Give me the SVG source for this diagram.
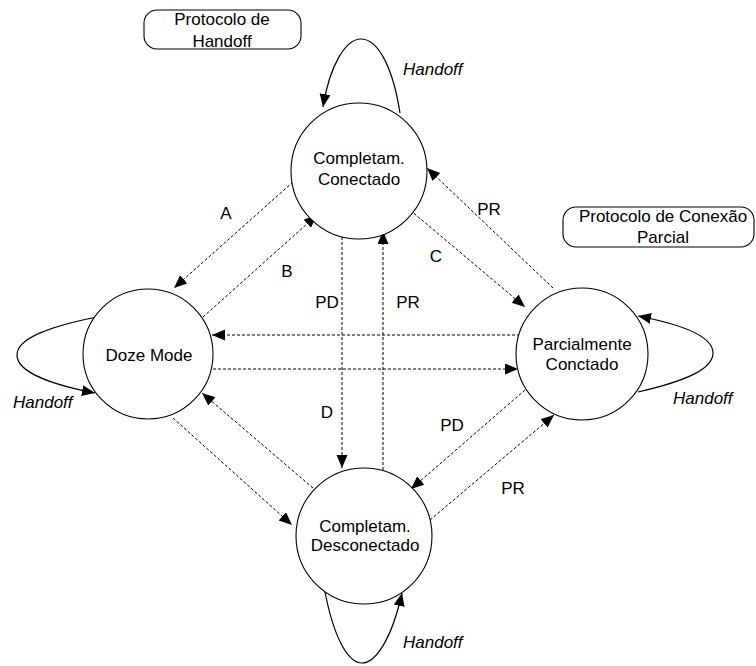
<svg xmlns="http://www.w3.org/2000/svg" width="756" height="666" viewBox="0 0 756 666">
  <style>
    .state { fill: #ffffff; stroke: #000000; stroke-width: 1.1; }
    .proto { fill: #ffffff; stroke: #000000; stroke-width: 1.1; }
    .label { font-family: "Liberation Sans", Arial, sans-serif; font-size: 17px; fill: #000000; text-anchor: middle; }
    .ho { font-family: "Liberation Sans", Arial, sans-serif; font-size: 17px; font-style: italic; fill: #000000; }
    .dash { fill: none; stroke: #000000; stroke-width: 1; stroke-dasharray: 3 2; }
    .loop { fill: none; stroke: #000000; stroke-width: 1.2; }
  </style>
  <defs>
    <marker id="arrow" markerUnits="userSpaceOnUse" markerWidth="14" markerHeight="12" refX="13" refY="5.5" orient="auto">
      <path d="M0,0 L13,5.5 L0,11 Z" fill="#000000"/>
    </marker>
  </defs>

  <rect width="756" height="666" fill="#ffffff"/>

  <!-- protocol boxes -->
  <g id="box-handoff">
    <rect class="proto" x="144" y="10" width="157" height="39" rx="13" ry="13"/>
    <text class="label" x="222" y="25">Protocolo de</text>
    <text class="label" x="222" y="47">Handoff</text>
  </g>
  <g id="box-parcial">
    <rect class="proto" x="563" y="207" width="191" height="40" rx="13" ry="13"/>
    <text class="label" x="663" y="222">Protocolo de Conexão</text>
    <text class="label" x="663" y="243">Parcial</text>
  </g>

  <!-- connectors -->
  <g id="connectors">
    <!-- handoff self-loops -->
    <path class="loop" d="M400,113 C392,62 376,39 361,39 C346,39 330,64 323,107" marker-end="url(#arrow)"/>
    <path class="loop" d="M97,317 C42,328 17,340 17,355 C17,371 48,384 95,393" marker-end="url(#arrow)"/>
    <path class="loop" d="M638,392 C690,380 713,368 713,353 C713,338 690,326 638,316" marker-end="url(#arrow)"/>
    <path class="loop" d="M325,592 C334,638 348,663 362,663 C376,663 392,638 402,593" marker-end="url(#arrow)"/>

    <!-- top / doze -->
    <line class="dash" x1="293" y1="182" x2="174" y2="288" marker-end="url(#arrow)"/>
    <line class="dash" x1="203" y1="317" x2="317" y2="215" marker-end="url(#arrow)"/>

    <!-- top / parcial -->
    <line class="dash" x1="410" y1="210" x2="525" y2="307" marker-end="url(#arrow)"/>
    <line class="dash" x1="553" y1="288" x2="427" y2="168" marker-end="url(#arrow)"/>

    <!-- top / desconectado -->
    <line class="dash" x1="342" y1="232" x2="342" y2="468" marker-end="url(#arrow)"/>
    <line class="dash" x1="383" y1="470" x2="383" y2="231" marker-end="url(#arrow)"/>

    <!-- doze / parcial -->
    <line class="dash" x1="520" y1="335" x2="212" y2="335" marker-end="url(#arrow)"/>
    <line class="dash" x1="213" y1="369" x2="518" y2="369" marker-end="url(#arrow)"/>

    <!-- doze / desconectado -->
    <line class="dash" x1="313" y1="488" x2="202" y2="393" marker-end="url(#arrow)"/>
    <line class="dash" x1="173" y1="418" x2="292" y2="525" marker-end="url(#arrow)"/>

    <!-- parcial / desconectado -->
    <line class="dash" x1="525" y1="390" x2="411" y2="489" marker-end="url(#arrow)"/>
    <line class="dash" x1="430" y1="520" x2="554" y2="415" marker-end="url(#arrow)"/>

    <!-- edge labels -->
    <text class="label" x="226" y="219">A</text>
    <text class="label" x="287" y="277">B</text>
    <text class="label" x="436" y="262">C</text>
    <text class="label" x="327" y="418">D</text>
    <text class="label" x="489" y="215">PR</text>
    <text class="label" x="327" y="308">PD</text>
    <text class="label" x="408" y="308">PR</text>
    <text class="label" x="452" y="431">PD</text>
    <text class="label" x="513" y="494">PR</text>
    <text class="ho" x="403" y="75">Handoff</text>
    <text class="ho" x="13" y="408">Handoff</text>
    <text class="ho" x="673" y="404">Handoff</text>
    <text class="ho" x="403" y="648">Handoff</text>
  </g>

  <!-- states -->
  <g id="conectado">
    <circle class="state" cx="359" cy="171" r="68"/>
    <text class="label" x="359" y="164">Completam.</text>
    <text class="label" x="359" y="185">Conectado</text>
  </g>
  <g id="doze">
    <circle class="state" cx="148" cy="354" r="65"/>
    <text class="label" x="149" y="361">Doze Mode</text>
  </g>
  <g id="parcial">
    <circle class="state" cx="582" cy="354" r="66"/>
    <text class="label" x="582" y="350">Parcialmente</text>
    <text class="label" x="582" y="370">Conctado</text>
  </g>
  <g id="desconectado">
    <circle class="state" cx="364" cy="536" r="68"/>
    <text class="label" x="365" y="532">Completam.</text>
    <text class="label" x="365" y="551">Desconectado</text>
  </g>
</svg>
